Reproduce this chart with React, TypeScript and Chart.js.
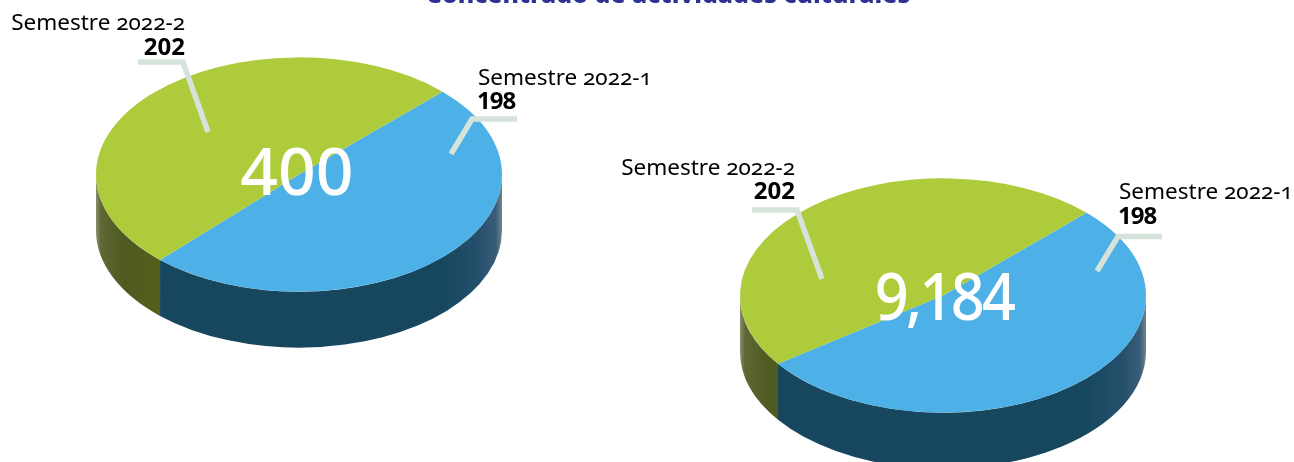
import React, { useEffect, useRef } from "react";
import { Chart, registerables } from "chart.js";

Chart.register(...registerables);

const titleText = "Concentrado de actividades culturales";
const categories = ["Semestre 2022-1", "Semestre 2022-2"];
const leftPieValues = [198, 202];
const leftPieLabels = ["198", "202"];
const leftPieTotal = "400";
// The printed labels of the right pie repeat 198/202, but its slices are drawn at about 52.6/47.4.
const rightPieValues = [52.6, 47.4];
const rightPieLabels = ["198", "202"];
const rightPieTotal = "9,184";

const BLUE = "#4db0e6";
const GREEN = "#aecb3c";
const LEADER = "#d5e3da";
const ROTATION = 45;
const RADIUS = 203;
const DEPTH = 56;
const SQUASH = 0.577;
const FONT = "'Noto Sans', sans-serif";

function sideGradient(ctx: CanvasRenderingContext2D, x: number, r: number, index: number) {
  const g = ctx.createLinearGradient(x - r, 0, x + r, 0);
  const stops: [number, string][] =
    index === 0
      ? [[0, "#17465f"], [0.85, "#17475f"], [0.94, "#234f6b"], [0.985, "#3a5d78"], [1, "#71858f"]]
      : [[0, "#8a8f6c"], [0.012, "#5f6835"], [0.07, "#4e5a20"], [0.16, "#565f1c"], [1, "#565f1c"]];
  stops.forEach(([o, c]) => g.addColorStop(o, c));
  return g;
}

function makePie3d(centerY: number, leaders: number[][][]) {
  return {
    id: "pie3d",
    beforeDatasetsDraw(chart: any) {
      const { ctx } = chart;
      const arcs = chart.getDatasetMeta(0).data;
      const cx = arcs[0].x;
      const r = arcs[0].outerRadius;
      const ry = r * SQUASH;
      arcs.forEach((arc: any, i: number) => {
        const a = Math.max(arc.startAngle, 0);
        const b = Math.min(arc.endAngle, Math.PI);
        const ranges: [number, number][] = [];
        if (b > a) ranges.push([a, b]);
        const a2 = Math.max(arc.startAngle - 2 * Math.PI, 0);
        const b2 = Math.min(arc.endAngle - 2 * Math.PI, Math.PI);
        if (b2 > a2) ranges.push([a2, b2]);
        ranges.forEach(([s, e]) => {
          ctx.beginPath();
          ctx.ellipse(cx, centerY, r, ry, 0, s, e, false);
          ctx.ellipse(cx, centerY + DEPTH, r, ry, 0, e, s, true);
          ctx.closePath();
          ctx.fillStyle = sideGradient(ctx, cx, r, i);
          ctx.fill();
        });
      });
      ctx.save();
      ctx.translate(0, centerY);
      ctx.scale(1, SQUASH);
      ctx.translate(0, -arcs[0].y);
    },
    afterDatasetsDraw(chart: any) {
      const { ctx } = chart;
      ctx.restore();
      ctx.save();
      ctx.strokeStyle = LEADER;
      ctx.lineWidth = 5.5;
      ctx.lineJoin = "miter";
      leaders.forEach((pts) => {
        ctx.beginPath();
        pts.forEach(([x, y], i) => (i ? ctx.lineTo(x, y) : ctx.moveTo(x, y)));
        ctx.stroke();
      });
      ctx.restore();
    },
  };
}

function pieConfig(values: number[], left: number, right: number, plugin: any) {
  return {
    type: "pie" as const,
    data: {
      labels: categories,
      datasets: [{ data: values, backgroundColor: [BLUE, GREEN], borderWidth: 0 }],
    },
    options: {
      responsive: false,
      animation: false as const,
      rotation: ROTATION,
      layout: { padding: { left, right, top: 28, bottom: 28 } },
      plugins: { legend: { display: false }, tooltip: { enabled: false }, title: { display: false } },
    },
    plugins: [plugin],
  };
}

function Txt(p: { x: number; base: number; size: number; weight?: number; color?: string; align?: "l" | "r" | "c"; children: any; features?: boolean; spacing?: number; squeeze?: number }) {
  const align = p.align || "l";
  const style: any = {
    position: "absolute",
    top: p.base - 0.888 * p.size,
    fontFamily: FONT,
    fontSize: p.size,
    lineHeight: 1,
    fontWeight: p.weight || 400,
    color: p.color || "#000",
    whiteSpace: "nowrap",
    letterSpacing: p.spacing,
    fontFeatureSettings: p.features ? "'onum'" : undefined,
  };
  if (align === "l") style.left = p.x;
  if (align === "r") style.right = 1294 - p.x;
  if (align === "c") {
    style.left = p.x;
    style.transform = `translateX(-50%) scaleX(${p.squeeze || 1})`;
  }
  return <div style={style}>{p.children}</div>;
}

export default function App() {
  const a = useRef<HTMLCanvasElement>(null);
  const b = useRef<HTMLCanvasElement>(null);
  useEffect(() => {
    const c1 = new Chart(
      a.current!,
      pieConfig(leftPieValues, 299 - RADIUS, 1294 - 299 - RADIUS, makePie3d(174.5, [
        [[138, 62], [183, 62], [208, 132]],
        [[517, 119], [472, 119], [451, 154]],
      ])) as any
    );
    const c2 = new Chart(
      b.current!,
      pieConfig(rightPieValues, 943 - RADIUS, 1294 - 943 - RADIUS, makePie3d(295.5, [
        [[752, 210], [797, 210], [822, 279]],
        [[1162, 236.5], [1118, 236.5], [1097, 271]],
      ])) as any
    );
    return () => {
      c1.destroy();
      c2.destroy();
    };
  }, []);
  const canvasStyle: any = { position: "absolute", left: 0, top: 0 };
  return (
    <div style={{ position: "absolute", left: 0, top: 0, width: 1294, height: 462, overflow: "hidden", background: "#fff" }}>
      <canvas ref={a} width={1294} height={462} style={canvasStyle} />
      <canvas ref={b} width={1294} height={462} style={canvasStyle} />
      <Txt x={668} base={3} size={25} weight={800} color="#2e3192" align="c">{titleText}</Txt>
      <Txt x={185} base={31} size={22.5} align="r" features>{categories[1]}</Txt>
      <Txt x={185} base={55} size={24} weight={700} align="r">{leftPieLabels[1]}</Txt>
      <Txt x={478} base={86} size={22.5} features>{categories[0]}</Txt>
      <Txt x={477} base={109} size={24} weight={700} spacing={-1}>{leftPieLabels[0]}</Txt>
      <Txt x={297} base={195} size={66} weight={500} color="#fff" align="c">{leftPieTotal}</Txt>
      <Txt x={795} base={176} size={22.5} align="r" features>{categories[1]}</Txt>
      <Txt x={795} base={199} size={24} weight={700} align="r">{rightPieLabels[1]}</Txt>
      <Txt x={1119} base={200} size={22.5} features>{categories[0]}</Txt>
      <Txt x={1118} base={224} size={24} weight={700} spacing={-1}>{rightPieLabels[0]}</Txt>
      <Txt x={944} base={320} size={66} weight={500} color="#fff" align="c" spacing={-3} squeeze={0.9}>{rightPieTotal}</Txt>
    </div>
  );
}
